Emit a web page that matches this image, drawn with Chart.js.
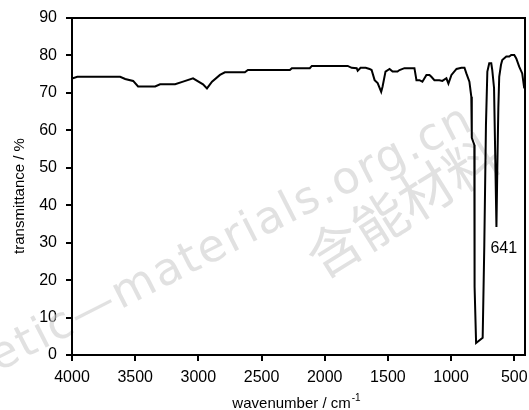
<!DOCTYPE html>
<html>
<head>
<meta charset="utf-8">
<script src="https://cdn.jsdelivr.net/npm/chart.js@4/dist/chart.umd.min.js"></script>
<style>
    html, body { margin: 0; padding: 0; background: #fff; }
    #wrap { width: 529px; height: 410px; position: relative; }
</style>
</head>
<body>
<div id="wrap"><canvas id="irChart"></canvas></div>
<script>
// IR spectrum
const wavenumbers = [4000, 3958, 3619, 3579, 3516, 3477, 3342, 3303, 3184, 3121, 3042, 2963, 2932, 2892, 2829, 2790,
    2632, 2608, 2276, 2260, 2118, 2102, 1818, 1787, 1747, 1739, 1716, 1676, 1645, 1629, 1605, 1581, 1553, 1542,
    1519, 1487, 1463, 1424, 1408, 1369, 1290, 1274, 1250, 1227, 1195, 1171, 1156, 1132, 1093, 1069, 1037, 1021,
    997, 957, 918, 894, 879, 855, 840, 836, 816, 814, 802, 750, 737, 724, 713, 698, 682, 674, 660, 650, 641,
    634, 626, 619, 605, 595, 563, 539, 524, 500, 484, 461, 437, 421];
const transmittance = [73.8, 74.3, 74.3, 73.7, 73.2, 71.7, 71.7, 72.3, 72.3, 73.0, 73.9, 72.3, 71.2, 73.0, 74.8, 75.5,
    75.5, 76.1, 76.1, 76.6, 76.6, 77.2, 77.2, 76.7, 76.6, 75.9, 76.7, 76.7, 76.4, 76.1, 73.4, 72.6, 70.3, 71.7,
    75.7, 76.4, 75.7, 75.7, 76.1, 76.6, 76.6, 73.4, 73.4, 73.0, 74.8, 74.8, 74.3, 73.4, 73.4, 73.2, 73.9, 72.5,
    74.8, 76.4, 76.7, 76.7, 75.2, 73.0, 69.0, 58.0, 56.1, 18.2, 3.2, 4.6, 29.4, 61.4, 75.7, 77.9, 77.9, 76.1, 71.3, 52, 34.2,
    50, 66, 74.3, 77.5, 78.8, 79.7, 79.7, 80.1, 80.1, 79.2, 77.0, 75.2, 71.2];

const xTicks = [4000, 3500, 3000, 2500, 2000, 1500, 1000, 500];
const peakLabel = { wn: 641, text: '641' };

const fontName = '"Liberation Sans", Arial, sans-serif';

const points = wavenumbers.map((w, i) => ({ x: w, y: transmittance[i] }));

const framePlugin = {
    id: 'frame',
    beforeDatasetsDraw(chart) {
        const ctx = chart.ctx;
        // watermark
        ctx.save();
        ctx.fillStyle = 'rgba(205,205,205,0.6)';
        ctx.font = '45px "DejaVu Sans", sans-serif';
        ctx.letterSpacing = '2px';
        ctx.translate(-2, 372);
        ctx.rotate(-27 * Math.PI / 180);
        ctx.textAlign = 'left';
        ctx.fillText('etic\u2014materials.org.cn', 0, 0);
        ctx.restore();
        ctx.save();
        ctx.fillStyle = 'rgba(205,205,205,0.6)';
        ctx.font = '54px "Noto Sans CJK SC", sans-serif';
        ctx.translate(322, 280);
        ctx.rotate(-32 * Math.PI / 180);
        ctx.fillText('含能材料', 0, 0);
        ctx.restore();
    },
    afterDraw(chart) {
        const ctx = chart.ctx;
        const a = chart.chartArea;
        ctx.save();
        ctx.strokeStyle = '#000';
        ctx.lineWidth = 2;
        ctx.strokeRect(a.left, a.top, a.right - a.left, a.bottom - a.top);

        ctx.fillStyle = '#000';
        // peak label
        const xs = chart.scales.x;
        ctx.font = '16px ' + fontName;
        ctx.textBaseline = 'alphabetic';
        ctx.textAlign = 'left';
        ctx.fillText(peakLabel.text, xs.getPixelForValue(peakLabel.wn) - 6, 253);

        // x title with superscript
        const main = 'wavenumber / cm';
        const sup = '-1';
        ctx.font = '15px ' + fontName;
        const w1 = ctx.measureText(main).width;
        ctx.font = '10px ' + fontName;
        const w2 = ctx.measureText(sup).width;
        const cx = 296;
        let x0 = cx - (w1 + w2) / 2;
        ctx.font = '15px ' + fontName;
        ctx.fillText(main, x0, 408);
        ctx.font = '10px ' + fontName;
        ctx.fillText(sup, x0 + w1 + 1, 401);

        // y title
        ctx.save();
        ctx.translate(24, 196);
        ctx.rotate(-Math.PI / 2);
        ctx.textAlign = 'center';
        ctx.font = '15px ' + fontName;
        ctx.fillText('transmittance / %', 0, 0);
        ctx.restore();
        ctx.restore();
    }
};

new Chart(document.getElementById('irChart'), {
    type: 'scatter',
    data: {
        datasets: [{
            data: points,
            showLine: true,
            borderColor: '#000',
            borderWidth: 2,
            pointRadius: 0,
            tension: 0
        }]
    },
    options: {
        responsive: true,
        maintainAspectRatio: false,
        animation: false,
        layout: { padding: { top: 18, right: 4, left: 0, bottom: 0 } },
        plugins: { legend: { display: false }, tooltip: { enabled: false } },
        scales: {
            x: {
                type: 'linear',
                reverse: true,
                min: 415,
                max: 4000,
                afterBuildTicks: axis => { axis.ticks = xTicks.map(v => ({ value: v })); },
                afterFit: axis => { axis.height = 55; axis.paddingLeft = 0; axis.paddingRight = 0; },
                grid: { drawOnChartArea: false, drawTicks: true, tickLength: 6, color: '#000', lineWidth: 2 },
                border: { display: true, color: '#000', width: 2 },
                ticks: { color: '#000', font: { family: fontName, size: 16 }, padding: 7, maxRotation: 0, autoSkip: false,
                    callback: v => String(v) }
            },
            y: {
                min: 0,
                max: 90,
                afterFit: axis => { axis.width = 72; axis.paddingTop = 0; axis.paddingBottom = 0; },
                grid: { drawOnChartArea: false, drawTicks: true, tickLength: 6, color: '#000', lineWidth: 2 },
                border: { display: true, color: '#000', width: 2 },
                ticks: { stepSize: 10, color: '#000', font: { family: fontName, size: 16 }, padding: 9 }
            }
        }
    },
    plugins: [framePlugin]
});
</script>
</body>
</html>
